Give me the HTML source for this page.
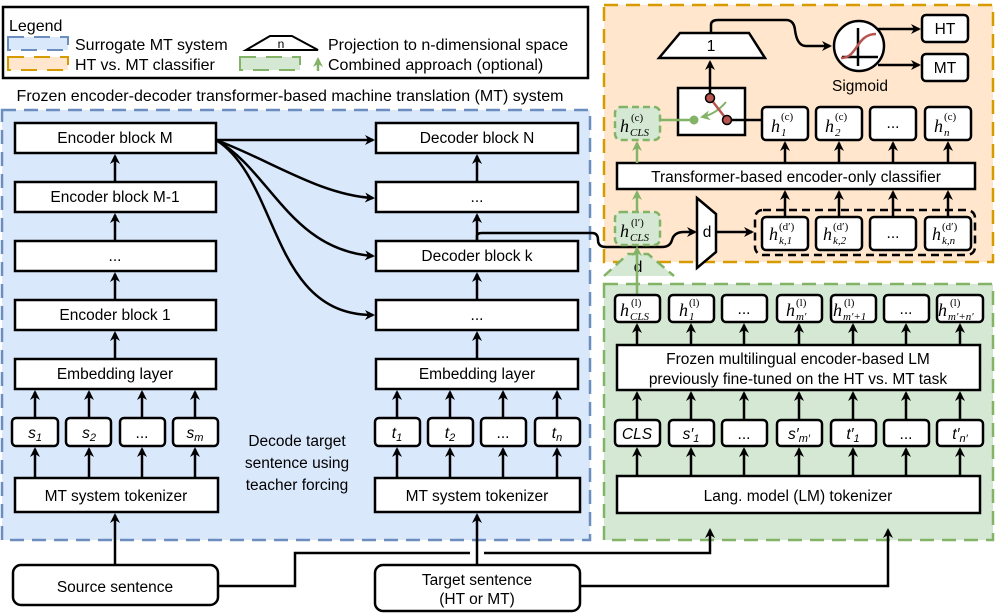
<!DOCTYPE html>
<html><head><meta charset="utf-8"><style>
body{margin:0;background:#fff}
svg{display:block}
text{font-family:"Liberation Sans",Arial,sans-serif;font-size:15.5px;fill:#000}
.lg{font-size:16px}
.b{fill:#fff;stroke:#000;stroke-width:2.5}
.l{stroke:#000;stroke-width:2.5;fill:none}
.g{stroke:#82b366;stroke-width:2.5;fill:none}
.m{font-family:"Liberation Serif",serif;font-style:italic;font-size:18px}
.sup{font-family:"Liberation Serif",serif;font-size:11px}
.sub{font-family:"Liberation Serif",serif;font-style:italic;font-size:11px}
</style></head><body>
<svg width="996" height="615" viewBox="0 0 996 615" xmlns="http://www.w3.org/2000/svg">
<defs>
<marker id="a" markerWidth="10" markerHeight="10" refX="8" refY="5" orient="auto" markerUnits="userSpaceOnUse"><path d="M0,0 L10,5 L0,10 L3,5z" fill="#000"/></marker>
<marker id="ag" markerWidth="10" markerHeight="10" refX="8" refY="5" orient="auto" markerUnits="userSpaceOnUse"><path d="M0,0 L10,5 L0,10 L3,5z" fill="#82b366"/></marker>
</defs>
<!-- legend -->
<rect x="3" y="7" width="585" height="71" fill="#fff" stroke="#000" stroke-width="2.5"/>
<text class="lg" x="9" y="31">Legend</text>
<rect x="8" y="37" width="60" height="13" fill="#dae8fc" stroke="#6c8ebf" stroke-width="2" stroke-dasharray="16,10"/>
<text class="lg" x="75" y="50">Surrogate MT system</text>
<rect x="8" y="57" width="60" height="13" fill="#ffe6cc" stroke="#d79b00" stroke-width="2" stroke-dasharray="16,10"/>
<text class="lg" x="75" y="70">HT vs. MT classifier</text>
<path d="M246,50 L270,36 L292,36 L318,50z" fill="#fff" stroke="#000" stroke-width="2"/>
<text x="281" y="48" text-anchor="middle" style="font-size:12px">n</text>
<text class="lg" x="328" y="50">Projection to n-dimensional space</text>
<rect x="240" y="57" width="60" height="13" fill="#d5e8d4" stroke="#82b366" stroke-width="2" stroke-dasharray="16,10"/>
<path d="M318,71 V59" class="g" stroke-width="2" marker-end="url(#ag)"/>
<text class="lg" x="328" y="70">Combined approach (optional)</text>
<text class="lg" x="290" y="101" text-anchor="middle">Frozen encoder-decoder transformer-based machine translation (MT) system</text>
<!-- regions -->
<rect x="2" y="110" width="588" height="430" fill="#dae8fc" stroke="#6c8ebf" stroke-width="2.5" stroke-dasharray="14,8"/>
<rect x="604" y="5" width="389" height="257" fill="#ffe6cc" stroke="#d79b00" stroke-width="2.5" stroke-dasharray="14,8"/>
<rect x="604" y="284" width="389" height="256" fill="#d5e8d4" stroke="#82b366" stroke-width="2.5" stroke-dasharray="14,8"/>
<path d="M604,276 L628,254 L648,254 L674,276" fill="#d5e8d4" stroke="#82b366" stroke-width="2.5" stroke-dasharray="10,6"/>
<text x="638" y="272" text-anchor="middle">d</text>
<!-- encoder column -->
<g>
<rect class="b" x="15" y="123" width="201" height="30"/><text x="115" y="143" text-anchor="middle">Encoder block M</text>
<rect class="b" x="15" y="182" width="201" height="30"/><text x="115" y="202" text-anchor="middle">Encoder block M-1</text>
<rect class="b" x="15" y="241" width="201" height="30"/><text x="115" y="261" text-anchor="middle">...</text>
<rect class="b" x="15" y="300" width="201" height="30"/><text x="115" y="320" text-anchor="middle">Encoder block 1</text>
<rect class="b" x="15" y="359" width="201" height="30"/><text x="115" y="379" text-anchor="middle">Embedding layer</text>
<path class="l" d="M115,182 V156" marker-end="url(#a)"/>
<path class="l" d="M115,241 V215" marker-end="url(#a)"/>
<path class="l" d="M115,300 V274" marker-end="url(#a)"/>
<path class="l" d="M115,359 V333" marker-end="url(#a)"/>
<rect class="b" x="12" y="418" width="46" height="28" rx="4"/><text x="35" y="438" text-anchor="middle" style="font-style:italic">s<tspan font-size="11" dy="3">1</tspan></text>
<rect class="b" x="66" y="418" width="45" height="28" rx="4"/><text x="89" y="438" text-anchor="middle" style="font-style:italic">s<tspan font-size="11" dy="3">2</tspan></text>
<rect class="b" x="120" y="418" width="45" height="28" rx="4"/><text x="142" y="438" text-anchor="middle">...</text>
<rect class="b" x="173" y="418" width="45" height="28" rx="4"/><text x="195" y="438" text-anchor="middle" style="font-style:italic">s<tspan font-size="11" dy="3">m</tspan></text>
<path class="l" d="M35,418 V392" marker-end="url(#a)"/>
<path class="l" d="M89,418 V392" marker-end="url(#a)"/>
<path class="l" d="M142,418 V392" marker-end="url(#a)"/>
<path class="l" d="M195,418 V392" marker-end="url(#a)"/>
<rect class="b" x="15" y="478" width="203" height="34"/><text x="116" y="501" text-anchor="middle">MT system tokenizer</text>
<path class="l" d="M35,478 V449" marker-end="url(#a)"/>
<path class="l" d="M89,478 V449" marker-end="url(#a)"/>
<path class="l" d="M142,478 V449" marker-end="url(#a)"/>
<path class="l" d="M195,478 V449" marker-end="url(#a)"/>
</g>
<!-- decoder column -->
<g>
<rect class="b" x="376" y="123" width="202" height="30"/><text x="477" y="143" text-anchor="middle">Decoder block N</text>
<rect class="b" x="376" y="182" width="202" height="30"/><text x="477" y="202" text-anchor="middle">...</text>
<rect class="b" x="376" y="241" width="202" height="30"/><text x="477" y="261" text-anchor="middle">Decoder block k</text>
<rect class="b" x="376" y="300" width="202" height="30"/><text x="477" y="320" text-anchor="middle">...</text>
<rect class="b" x="376" y="359" width="202" height="30"/><text x="477" y="379" text-anchor="middle">Embedding layer</text>
<path class="l" d="M477,182 V156" marker-end="url(#a)"/>
<path class="l" d="M477,241 V215" marker-end="url(#a)"/>
<path class="l" d="M477,300 V274" marker-end="url(#a)"/>
<path class="l" d="M477,359 V333" marker-end="url(#a)"/>
<rect class="b" x="375" y="418" width="45" height="28" rx="4"/><text x="397" y="438" text-anchor="middle" style="font-style:italic">t<tspan font-size="11" dy="3">1</tspan></text>
<rect class="b" x="428" y="418" width="45" height="28" rx="4"/><text x="450" y="438" text-anchor="middle" style="font-style:italic">t<tspan font-size="11" dy="3">2</tspan></text>
<rect class="b" x="481" y="418" width="45" height="28" rx="4"/><text x="503" y="438" text-anchor="middle">...</text>
<rect class="b" x="535" y="418" width="45" height="28" rx="4"/><text x="557" y="438" text-anchor="middle" style="font-style:italic">t<tspan font-size="11" dy="3">n</tspan></text>
<path class="l" d="M397,418 V392" marker-end="url(#a)"/>
<path class="l" d="M450,418 V392" marker-end="url(#a)"/>
<path class="l" d="M503,418 V392" marker-end="url(#a)"/>
<path class="l" d="M557,418 V392" marker-end="url(#a)"/>
<rect class="b" x="375" y="478" width="205" height="34"/><text x="477" y="501" text-anchor="middle">MT system tokenizer</text>
<path class="l" d="M397,478 V449" marker-end="url(#a)"/>
<path class="l" d="M450,478 V449" marker-end="url(#a)"/>
<path class="l" d="M503,478 V449" marker-end="url(#a)"/>
<path class="l" d="M557,478 V449" marker-end="url(#a)"/>
</g>
<text x="297" y="446" text-anchor="middle">Decode target</text>
<text x="297" y="468" text-anchor="middle">sentence using</text>
<text x="297" y="490" text-anchor="middle">teacher forcing</text>
<!-- encoder M to decoders -->
<path class="l" d="M216,140 H373" marker-end="url(#a)"/>
<path class="l" d="M216,140 C270,160 320,195 373,198" marker-end="url(#a)"/>
<path class="l" d="M216,140 C270,170 290,250 373,256" marker-end="url(#a)"/>
<path class="l" d="M216,140 C280,180 270,315 373,315" marker-end="url(#a)"/>
<!-- bottom inputs -->
<rect class="b" x="13" y="565" width="205" height="40" rx="8"/><text x="115" y="592" text-anchor="middle">Source sentence</text>
<rect class="b" x="375" y="565" width="205" height="46" rx="8"/><text x="477" y="585" text-anchor="middle">Target sentence</text><text x="477" y="604" text-anchor="middle">(HT or MT)</text>
<path class="l" d="M115,565 V515" marker-end="url(#a)"/>
<path class="l" d="M477,565 V515" marker-end="url(#a)"/>
<path class="l" d="M218,586 H295 V553 H470 M484,553 H710 V530" marker-end="url(#a)"/>
<path class="l" d="M580,586 H888 V530" marker-end="url(#a)"/>
<!-- decoder k tap -->
<path class="l" d="M477,241 V236 Q477,233 482,233 H592 Q598,233 598,240 Q598,247 606,247 H662 Q670,247 672,240 Q674,232 684,232 H695" marker-end="url(#a)"/>
<path d="M697,198 L716,214 L716,252 L697,268z" fill="#fff" stroke="#000" stroke-width="2.5"/>
<text x="707" y="237" text-anchor="middle">d</text>
<path class="l" d="M716,232 H752" marker-end="url(#a)"/>
<rect x="755" y="210" width="220" height="45" rx="8" fill="none" stroke="#000" stroke-width="2.5" stroke-dasharray="8,5"/>
<!-- h(d') boxes -->
<g>
<rect class="b" x="762" y="217" width="46" height="33" rx="4"/><text x="769" y="240" class="m">h</text><text x="779" y="230" class="sup">(d′)</text><text x="779" y="244" class="sub">k,1</text>
<rect class="b" x="816" y="217" width="46" height="33" rx="4"/><text x="823" y="240" class="m">h</text><text x="833" y="230" class="sup">(d′)</text><text x="833" y="244" class="sub">k,2</text>
<rect class="b" x="870" y="217" width="46" height="33" rx="4"/><text x="893" y="238" text-anchor="middle">...</text>
<rect class="b" x="925" y="217" width="46" height="33" rx="4"/><text x="932" y="240" class="m">h</text><text x="942" y="230" class="sup">(d′)</text><text x="942" y="244" class="sub">k,n</text>
</g>
<rect class="b" x="617" y="163" width="358" height="26"/><text x="796" y="182" text-anchor="middle">Transformer-based encoder-only classifier</text>
<path class="l" d="M785,217 V192" marker-end="url(#a)"/>
<path class="l" d="M839,217 V192" marker-end="url(#a)"/>
<path class="l" d="M893,217 V192" marker-end="url(#a)"/>
<path class="l" d="M948,217 V192" marker-end="url(#a)"/>
<path class="l" d="M785,163 V143" marker-end="url(#a)"/>
<path class="l" d="M839,163 V143" marker-end="url(#a)"/>
<path class="l" d="M893,163 V143" marker-end="url(#a)"/>
<path class="l" d="M948,163 V143" marker-end="url(#a)"/>
<!-- h(c) boxes -->
<rect class="b" x="762" y="107" width="46" height="33" rx="4"/><text x="771" y="132" class="m">h</text><text x="781" y="120" class="sup">(c)</text><text x="781" y="136" class="sub">1</text>
<rect class="b" x="816" y="107" width="46" height="33" rx="4"/><text x="825" y="132" class="m">h</text><text x="835" y="120" class="sup">(c)</text><text x="835" y="136" class="sub">2</text>
<rect class="b" x="870" y="107" width="46" height="33" rx="4"/><text x="893" y="128" text-anchor="middle">...</text>
<rect class="b" x="925" y="107" width="46" height="33" rx="4"/><text x="934" y="132" class="m">h</text><text x="944" y="120" class="sup">(c)</text><text x="944" y="136" class="sub">n</text>
<!-- green CLS boxes -->
<rect x="615" y="107" width="45" height="33" rx="6" fill="#d5e8d4" stroke="#82b366" stroke-width="2.5" stroke-dasharray="7,4"/>
<text x="620" y="132" class="m">h</text><text x="631" y="121" class="sup">(c)</text><text x="630" y="136" class="sub">CLS</text>
<rect x="615" y="212" width="45" height="33" rx="6" fill="#d5e8d4" stroke="#82b366" stroke-width="2.5" stroke-dasharray="7,4"/>
<text x="620" y="237" class="m">h</text><text x="631" y="226" class="sup">(l′)</text><text x="630" y="241" class="sub">CLS</text>
<path class="g" d="M637,163 V143" marker-end="url(#ag)"/>
<path class="g" d="M637,212 V192" marker-end="url(#ag)"/>
<path class="g" d="M637,296 V248" marker-end="url(#ag)"/>
<!-- switch -->
<rect class="b" x="678" y="88" width="67" height="47" fill="#fff"/>
<path class="g" d="M660,120 H694"/>
<circle cx="694" cy="120" r="4.5" fill="#82b366"/>
<path d="M726,102 Q716,114 702,117" fill="none" stroke="#82b366" stroke-width="2" marker-end="url(#ag)"/>
<path d="M710,98 L727,120" stroke="#b85450" stroke-width="2.5"/>
<path class="l" d="M727,120 H762"/>
<path class="l" d="M710,98 V62" marker-end="url(#a)"/>
<circle cx="710" cy="98" r="4.5" fill="#b85450" stroke="#000" stroke-width="1.5"/>
<circle cx="727" cy="120" r="4.5" fill="#b85450" stroke="#000" stroke-width="1.5"/>
<!-- projection 1 -->
<path d="M659,58 L680,33 L749,33 L765,58z" fill="#fff" stroke="#000" stroke-width="2.5"/>
<text x="711" y="51" text-anchor="middle">1</text>
<path class="l" d="M711,33 V25 Q711,20 718,20 H786 Q794,20 795,30 Q797,46 806,46 H830" marker-end="url(#a)"/>
<circle cx="859" cy="46" r="25" fill="#fff" stroke="#000" stroke-width="2.5"/>
<path d="M858,28 V66 M842,57 H878" stroke="#000" stroke-width="2.5"/>
<path d="M841,58 C858,58 856,34 876,34" fill="none" stroke="#b85450" stroke-width="2.5"/>
<text x="860" y="91" text-anchor="middle">Sigmoid</text>
<path class="l" d="M878,29 H919" marker-end="url(#a)"/>
<path class="l" d="M878,65 H919" marker-end="url(#a)"/>
<rect class="b" x="922" y="15" width="46" height="27" rx="4"/><text x="945" y="34" text-anchor="middle">HT</text>
<rect class="b" x="922" y="54" width="46" height="27" rx="4"/><text x="945" y="73" text-anchor="middle">MT</text>
<!-- green LM section -->
<g>
<rect class="b" x="615" y="295" width="45" height="27" rx="4"/><text x="620" y="316" class="m">h</text><text x="631" y="306" class="sup">(l)</text><text x="630" y="320" class="sub">CLS</text>
<rect class="b" x="669" y="295" width="45" height="27" rx="4"/><text x="679" y="316" class="m">h</text><text x="689" y="306" class="sup">(l)</text><text x="689" y="320" class="sub">1</text>
<rect class="b" x="722" y="295" width="45" height="27" rx="4"/><text x="744" y="314" text-anchor="middle">...</text>
<rect class="b" x="777" y="295" width="45" height="27" rx="4"/><text x="786" y="316" class="m">h</text><text x="796" y="306" class="sup">(l)</text><text x="796" y="320" class="sub">m′</text>
<rect class="b" x="831" y="295" width="45" height="27" rx="4"/><text x="833" y="316" class="m">h</text><text x="844" y="306" class="sup">(l)</text><text x="843" y="320" class="sub">m′+1</text>
<rect class="b" x="884" y="295" width="45" height="27" rx="4"/><text x="906" y="314" text-anchor="middle">...</text>
<rect class="b" x="937" y="295" width="46" height="27" rx="4"/><text x="938" y="316" class="m">h</text><text x="950" y="306" class="sup">(l)</text><text x="948" y="320" class="sub">m′+n′</text>
<rect class="b" x="617" y="345" width="363" height="45"/>
<text x="798" y="364" text-anchor="middle">Frozen multilingual encoder-based LM</text>
<text x="798" y="384" text-anchor="middle">previously fine-tuned on the HT vs. MT task</text>
<rect class="b" x="615" y="420" width="45" height="26" rx="4"/><text x="637" y="439" text-anchor="middle" style="font-style:italic">CLS</text>
<rect class="b" x="669" y="420" width="45" height="26" rx="4"/><text x="691" y="439" text-anchor="middle" style="font-style:italic">s′<tspan font-size="11" dy="3">1</tspan></text>
<rect class="b" x="722" y="420" width="45" height="26" rx="4"/><text x="744" y="439" text-anchor="middle">...</text>
<rect class="b" x="777" y="420" width="45" height="26" rx="4"/><text x="799" y="439" text-anchor="middle" style="font-style:italic">s′<tspan font-size="11" dy="3">m′</tspan></text>
<rect class="b" x="831" y="420" width="45" height="26" rx="4"/><text x="853" y="439" text-anchor="middle" style="font-style:italic">t′<tspan font-size="11" dy="3">1</tspan></text>
<rect class="b" x="884" y="420" width="45" height="26" rx="4"/><text x="906" y="439" text-anchor="middle">...</text>
<rect class="b" x="937" y="420" width="46" height="26" rx="4"/><text x="960" y="439" text-anchor="middle" style="font-style:italic">t′<tspan font-size="11" dy="3">n′</tspan></text>
<rect class="b" x="617" y="476" width="363" height="37"/><text x="798" y="501" text-anchor="middle">Lang. model (LM) tokenizer</text>
</g>
<g>
<path class="l" d="M637,345 V325" marker-end="url(#a)"/><path class="l" d="M691,345 V325" marker-end="url(#a)"/><path class="l" d="M744,345 V325" marker-end="url(#a)"/><path class="l" d="M799,345 V325" marker-end="url(#a)"/><path class="l" d="M853,345 V325" marker-end="url(#a)"/><path class="l" d="M906,345 V325" marker-end="url(#a)"/><path class="l" d="M960,345 V325" marker-end="url(#a)"/>
<path class="l" d="M637,420 V393" marker-end="url(#a)"/><path class="l" d="M691,420 V393" marker-end="url(#a)"/><path class="l" d="M744,420 V393" marker-end="url(#a)"/><path class="l" d="M799,420 V393" marker-end="url(#a)"/><path class="l" d="M853,420 V393" marker-end="url(#a)"/><path class="l" d="M906,420 V393" marker-end="url(#a)"/><path class="l" d="M960,420 V393" marker-end="url(#a)"/>
<path class="l" d="M637,476 V449" marker-end="url(#a)"/><path class="l" d="M691,476 V449" marker-end="url(#a)"/><path class="l" d="M744,476 V449" marker-end="url(#a)"/><path class="l" d="M799,476 V449" marker-end="url(#a)"/><path class="l" d="M853,476 V449" marker-end="url(#a)"/><path class="l" d="M906,476 V449" marker-end="url(#a)"/><path class="l" d="M960,476 V449" marker-end="url(#a)"/>
</g>
</svg>
</body></html>
